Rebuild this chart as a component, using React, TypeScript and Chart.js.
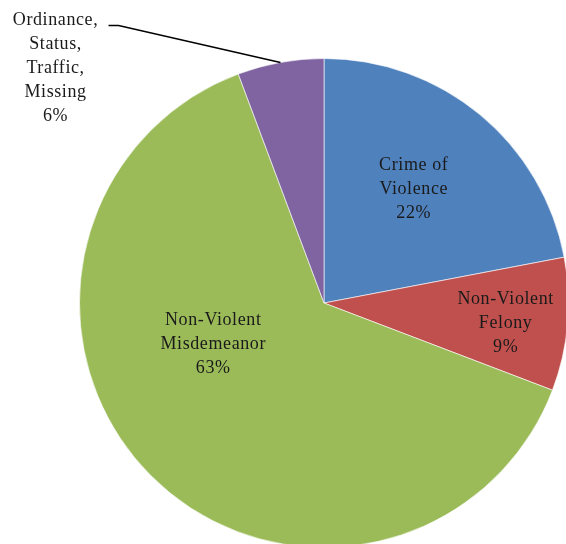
import React, { useEffect, useRef } from "react";
import { Chart, registerables } from "chart.js";

Chart.register(...registerables);

const categories = ["Crime of Violence", "Non-Violent Felony", "Non-Violent Misdemeanor", "Ordinance, Status, Traffic, Missing"];
const labelLines = [
  ["Crime of", "Violence", "22%"],
  ["Non-Violent", "Felony", "9%"],
  ["Non-Violent", "Misdemeanor", "63%"],
  ["Ordinance,", "Status,", "Traffic,", "Missing", "6%"],
];
const values = [22.0, 8.8, 63.5, 5.7];
const colors = ["#4F81BD", "#C0504D", "#9BBB59", "#8064A2"];
// label anchors relative to pie centre, in radius units
const labelPos = [
  [0.367, -0.465],
  [0.743, 0.082],
  [-0.453, 0.167],
  [-1.098, -0.959],
];

const labelPlugin = {
  id: "pieLabels",
  afterDatasetsDraw(chart: any) {
    const ctx = chart.ctx;
    const meta = chart.getDatasetMeta(0);
    ctx.save();
    ctx.font = "18px 'Liberation Serif', serif";
    (ctx as any).letterSpacing = "0.6px";
    ctx.fillStyle = "#1a1a1a";
    ctx.textAlign = "center";
    ctx.textBaseline = "middle";
    const lh = 24;
    meta.data.forEach((arc: any, i: number) => {
      const { x, y, outerRadius, startAngle, endAngle } = arc.getProps(["x", "y", "outerRadius", "startAngle", "endAngle"], true);
      const lx = x + labelPos[i][0] * outerRadius;
      const ly = y + labelPos[i][1] * outerRadius;
      const lines = labelLines[i];
      const top = ly - ((lines.length - 1) * lh) / 2;
      lines.forEach((t, k) => ctx.fillText(t, lx, top + k * lh));
      if (i === 3) {
        const mid = (startAngle + endAngle) / 2;
        const ex = x + Math.cos(mid) * outerRadius;
        const ey = y + Math.sin(mid) * outerRadius;
        const sx = lx + 53;
        const sy = top + 5;
        ctx.beginPath();
        ctx.strokeStyle = "#000";
        ctx.lineWidth = 1.5;
        ctx.moveTo(sx, sy);
        ctx.lineTo(sx + 10, sy);
        ctx.lineTo(ex, ey);
        ctx.stroke();
      }
    });
    ctx.restore();
  },
};

export default function App() {
  const ref = useRef<HTMLCanvasElement>(null);
  useEffect(() => {
    if (!ref.current) return;
    const chart = new Chart(ref.current, {
      type: "pie",
      data: {
        labels: categories,
        datasets: [
          {
            data: values,
            backgroundColor: colors,
            borderColor: "rgba(255,255,255,0.6)",
            borderWidth: 1,
          },
        ],
      },
      options: {
        responsive: false,
        animation: false,
        layout: { padding: { left: 79, top: 58, right: 31, bottom: 52 } },
        plugins: { legend: { display: false }, tooltip: { enabled: false } },
      },
      plugins: [labelPlugin],
    });
    return () => chart.destroy();
  }, []);
  return (
    <div style={{ position: "fixed", left: 0, top: 0, width: 566, height: 544, overflow: "hidden", background: "#fff" }}>
      <canvas ref={ref} width={600} height={600} style={{ display: "block", width: 600, height: 600 }} />
    </div>
  );
}
